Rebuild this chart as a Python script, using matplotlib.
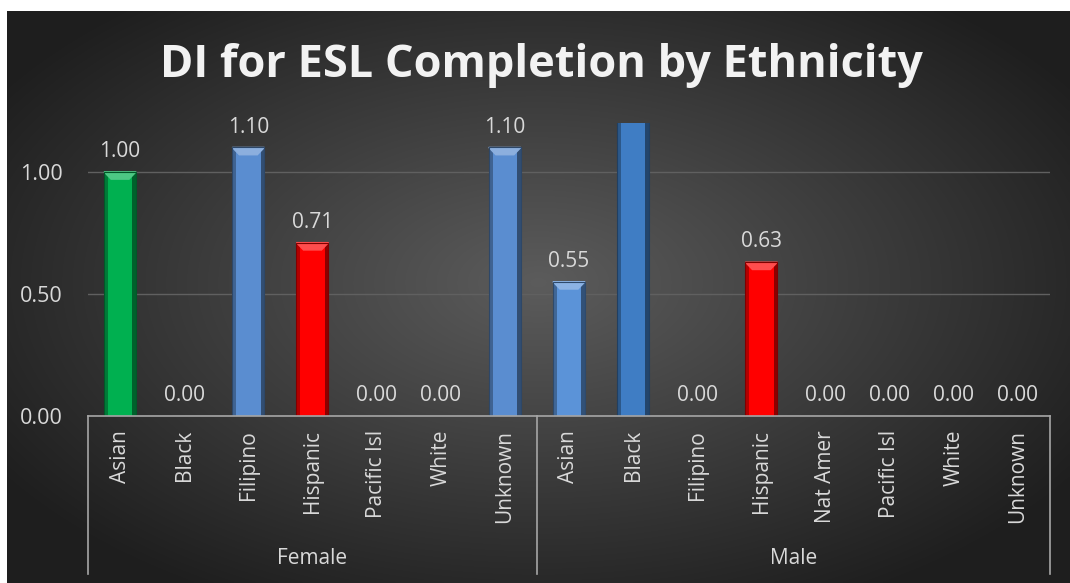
import numpy as np
import matplotlib.pyplot as plt
from matplotlib.colors import to_rgb
from matplotlib.patches import Polygon
from matplotlib.lines import Line2D
from matplotlib.transforms import blended_transform_factory

plt.rcParams['font.family'] = ['Open Sans', 'DejaVu Sans']

# --- data ---
genders = ["Female", "Male"]
female_groups = ["Asian", "Black", "Filipino", "Hispanic", "Pacific Isl", "White", "Unknown"]
male_groups = ["Asian", "Black", "Filipino", "Hispanic", "Nat Amer", "Pacific Isl", "White", "Unknown"]
female_di = [1.00, 0.00, 1.10, 0.71, 0.00, 0.00, 1.10]
male_di = [0.55, 1.60, 0.00, 0.63, 0.00, 0.00, 0.00, 0.00]  # male Black runs past the top of the axis
female_colors = ["#00b050", "#4f81bd", "#5a8dd0", "#ff0000", "#4f81bd", "#4f81bd", "#5a8dd0"]
male_colors = ["#5b93d8", "#3f7dc4", "#4f81bd", "#ff0000", "#4f81bd", "#4f81bd", "#4f81bd", "#4f81bd"]
y_ticks = [0.0, 0.5, 1.0]
y_max = 1.2

labels = female_groups + male_groups
values = female_di + male_di
colors = female_colors + male_colors
x = np.arange(len(labels))
group_sizes = [len(female_groups), len(male_groups)]

W, H = 1070, 583
fig = plt.figure(figsize=(W / 100, H / 100), dpi=100, facecolor="white")

# dark radial backdrop
bg = fig.add_axes([7 / W, 0, 1 - 7 / W, 1 - 11 / H])
gx, gy = np.meshgrid(np.linspace(-1, 1, 400), np.linspace(-1, 1, 220))
r = np.sqrt(((gx - 0.0) / 1.0) ** 2 + ((gy + 0.05) / 1.05) ** 2)
shade = np.clip(0.36 - 0.2 * r, 0.12, 0.36)
bg.imshow(np.dstack([shade] * 3), aspect="auto", extent=[0, 1, 0, 1], interpolation="bilinear")
bg.set_axis_off()

left, right = 88 / W, 1050 / W
bottom, top = (H - 416) / H, (H - 123) / H
ax = fig.add_axes([left, bottom, right - left, top - bottom])
ax.patch.set_alpha(0)

def mix(c, other, t):
    c = np.array(to_rgb(c))
    return tuple(c + (np.array(other) - c) * t)

bw = 0.5
dx, dy = 0.11, 0.03
for xi, v, c in zip(x, values, colors):
    if v <= 0:
        continue
    ax.bar(xi, v, width=bw, color=c, zorder=3)
    # darker side edges and a lighter chamfer on top, like the bevel in the original
    ax.bar(xi - bw / 2 + 0.03, v, width=0.06, color=mix(c, (0, 0, 0), 0.3), zorder=4)
    ax.bar(xi + bw / 2 - 0.03, v, width=0.06, color=mix(c, (0, 0, 0), 0.45), zorder=4)
    ax.add_patch(Polygon([(xi - bw / 2, v), (xi + bw / 2, v), (xi + bw / 2 - dx, v - dy),
                          (xi - bw / 2 + dx, v - dy)], closed=True,
                         color=mix(c, (1, 1, 1), 0.3), zorder=5))
    ax.bar(xi, v, width=bw, fill=False, edgecolor=mix(c, (0, 0, 0), 0.5), linewidth=0.8, zorder=6)

for xi, v in zip(x, values):
    if v <= y_max:
        ax.annotate(f"{v:.2f}", (xi, v), xytext=(0, 7), textcoords="offset points",
                    ha="center", va="bottom", fontsize=15, color="#d9d9d9")

ax.set_xlim(-0.5, len(labels) - 0.5)
ax.set_ylim(0, y_max)
ax.set_yticks(y_ticks)
ax.set_yticklabels([f"{t:.2f}" for t in y_ticks])
ax.tick_params(axis="y", length=0, pad=18, labelsize=15.5, labelcolor="#d9d9d9")
ax.set_xticks([])
for s in ["top", "right", "left"]:
    ax.spines[s].set_visible(False)
ax.spines["bottom"].set_color("#a6a6a6")
ax.spines["bottom"].set_linewidth(1.2)
ax.spines["bottom"].set_zorder(7)
ax.grid(axis="y", color="#606060", linewidth=1)
ax.set_axisbelow(True)

for xi, lab in zip(x, labels):
    ax.annotate(lab, (xi, 0), xytext=(0, -10), textcoords="offset points", rotation=90,
                ha="center", va="top", fontsize=15, color="#d9d9d9", annotation_clip=False)

# group boxes below the axis
trans = blended_transform_factory(ax.transData, fig.transFigure)
bounds = np.concatenate([[0], np.cumsum(group_sizes)]) - 0.5
for b in bounds:
    fig.add_artist(Line2D([b, b], [bottom, 9 / H], transform=trans, color="#a6a6a6", linewidth=1.2))
for g, a, b in zip(genders, bounds[:-1], bounds[1:]):
    fig.text((a + b) / 2, (H - 558) / H, g, transform=trans, ha="center", va="center",
             fontsize=15, color="#d9d9d9")

fig.text(541 / W, 1 - 66 / H, "DI for ESL Completion by Ethnicity", ha="center", va="center",
         fontsize=32.5, fontweight="bold", color="#f2f2f2")

fig.savefig("out.png", dpi=100, facecolor=fig.get_facecolor())
